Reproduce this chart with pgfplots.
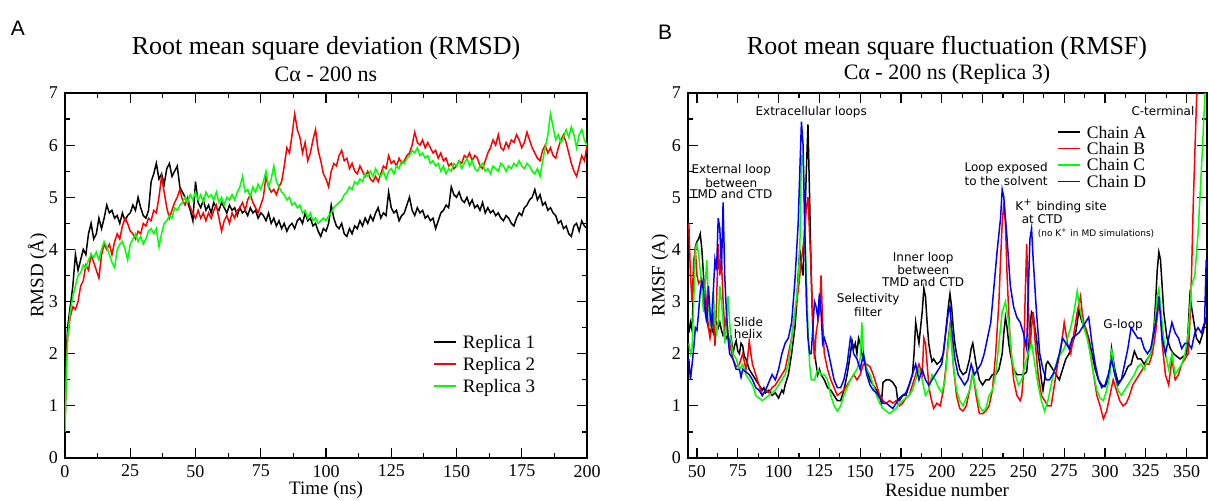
\documentclass[border=0pt]{standalone}
\usepackage{fontspec}
\setmainfont{Liberation Serif}
\newfontfamily\dv{DejaVu Sans}
\newfontfamily\ls{Liberation Sans}
\usepackage{pgfplots}
\pgfplotsset{compat=1.18}
\pgfplotsset{
  grace/.style={
    scale only axis, height=182.5pt, anchor=south west,
    ymin=0, ymax=7, ytick={0,1,...,7},
    minor x tick num=1, minor y tick num=1,
    tick align=inside, major tick length=5pt, minor tick length=2.5pt,
    tick style={black, line width=0.6pt},
    axis line style={line width=0.7pt},
    tick label style={font=\fontsize{9}{10}\selectfont},
    /pgf/number format/assume math mode=true,
    every axis plot/.append style={line width=0.75pt},
    legend image code/.code={\draw[##1] (0pt,0pt) -- (11pt,0pt);},
  }
}
\begin{document}
\begin{tikzpicture}
\useasboundingbox (0,0) rectangle (604.5pt,250pt);
% ---------------- Panel A ----------------
\begin{axis}[grace, at={(32.5pt,21pt)}, width=261pt,
  xmin=0, xmax=200, xtick={0,25,...,200},
  legend style={at={(0.705,0.342)}, anchor=north west, draw=none, fill=none,
    inner sep=0pt, row sep=2.5pt, column sep=2pt,
    font=\fontsize{9.5}{11}\selectfont,
    nodes={inner sep=1pt, text height=6.5pt, text depth=0pt}},
  legend cell align=left]
\addplot[black] coordinates {
(0,0.6)(0.5,2.0)(1,2.5)(2,2.9)(3,3.3)(4,3.9)(5,3.6)(6,3.8)(7,4.0)(8,3.9)(9,4.3)(10,4.5)(11,4.2)(12,4.3)(13,4.6)(14,4.4)(15,4.6)(16,4.85)(17,4.7)(18,4.75)(19,4.6)(20,4.65)
(21,4.5)(22,4.7)(23,4.55)(24,4.65)(25,4.7)(26,4.85)(27,4.75)(28,5.0)(29,4.8)(30,4.65)(31,4.6)(32,4.75)(33,5.3)(34,5.45)(35,5.65)(36,5.35)(37,5.45)(38,5.25)(39,5.55)(40,5.65)
(41,5.4)(42,5.5)(43,5.6)(44,5.2)(45,5.1)(46,5.0)(47,4.9)(48,4.75)(49,4.55)(50,5.3)(51,4.9)(52,4.8)(53,4.95)(54,4.75)(55,4.85)(56,4.7)(57,4.9)(58,4.8)(59,4.75)(60,4.9)
(61,4.8)(62,4.7)(63,4.85)(64,4.75)(65,4.8)(66,4.65)(67,4.8)(68,4.7)(69,4.75)(70,4.65)(71,4.8)(72,4.7)(73,4.75)(74,4.6)(75,4.7)(76,4.65)(77,4.55)(78,4.7)(79,4.5)(80,4.6)
(81,4.45)(82,4.55)(83,4.4)(84,4.5)(85,4.35)(86,4.45)(87,4.5)(88,4.4)(89,4.55)(90,4.6)(91,4.5)(92,4.7)(93,4.55)(94,4.6)(95,4.45)(96,4.5)(97,4.35)(98,4.25)(99,4.4)(100,4.35)
(101,4.5)(102,4.85)(103,4.6)(104,4.45)(105,4.4)(106,4.5)(107,4.3)(108,4.25)(109,4.4)(110,4.3)(111,4.45)(112,4.4)(113,4.55)(114,4.45)(115,4.6)(116,4.5)(117,4.65)(118,4.55)(119,4.7)(120,4.8)
(121,4.6)(122,4.7)(123,4.65)(124,5.1)(125,4.8)(126,4.7)(127,4.75)(128,4.55)(129,4.65)(130,4.7)(131,4.85)(132,5.0)(133,4.75)(134,4.65)(135,4.8)(136,4.7)(137,4.75)(138,4.6)(139,4.65)(140,4.55)
(141,4.6)(142,4.4)(143,4.55)(144,4.7)(145,4.75)(146,4.85)(147,4.8)(148,5.2)(149,5.05)(150,5.0)(151,5.1)(152,4.95)(153,4.9)(154,5.0)(155,4.85)(156,4.95)(157,4.8)(158,4.85)(159,4.75)(160,4.9)
(161,4.7)(162,4.8)(163,4.7)(164,4.75)(165,4.65)(166,4.7)(167,4.6)(168,4.55)(169,4.65)(170,4.6)(171,4.5)(172,4.45)(173,4.6)(174,4.7)(175,4.65)(176,4.8)(177,4.85)(178,4.95)(179,5.0)(180,5.15)
(181,4.95)(182,5.05)(183,4.85)(184,4.9)(185,4.75)(186,4.8)(187,4.7)(188,4.65)(189,4.5)(190,4.55)(191,4.4)(192,4.45)(193,4.3)(194,4.25)(195,4.45)(196,4.5)(197,4.35)(198,4.55)(199,4.45)(200,4.4)
};
\addlegendentry{Replica 1}
\addplot[red] coordinates {
(0,0.7)(0.5,1.8)(1,2.3)(2,2.7)(3,2.9)(4,2.85)(5,3.0)(6,3.3)(7,3.4)(8,3.7)(9,3.6)(10,3.9)(11,3.75)(12,3.6)(13,3.45)(14,3.9)(15,4.1)(16,4.0)(17,4.1)(18,3.9)(19,4.15)(20,4.3)
(21,4.2)(22,4.45)(23,4.6)(24,4.5)(25,4.35)(26,4.3)(27,4.2)(28,4.35)(29,4.3)(30,4.5)(31,4.45)(32,4.6)(33,4.55)(34,4.75)(35,4.7)(36,5.0)(37,5.4)(38,5.1)(39,4.8)(40,4.6)
(41,4.75)(42,4.9)(43,5.0)(44,5.15)(45,4.95)(46,4.85)(47,5.0)(48,4.8)(49,4.7)(50,4.6)(51,4.75)(52,4.6)(53,4.7)(54,4.55)(55,4.7)(56,4.6)(57,4.75)(58,4.85)(59,4.6)(60,4.35)
(61,4.55)(62,4.65)(63,4.5)(64,4.7)(65,4.6)(66,4.75)(67,4.8)(68,4.9)(69,4.75)(70,4.95)(71,5.05)(72,4.9)(73,4.8)(74,4.7)(75,4.85)(76,5.0)(77,5.4)(78,5.2)(79,5.1)(80,5.15)
(81,5.05)(82,5.2)(83,5.3)(84,5.6)(85,5.95)(86,5.85)(87,6.2)(88,6.6)(89,6.3)(90,6.15)(91,5.85)(92,6.05)(93,5.7)(94,5.85)(95,6.1)(96,6.3)(97,5.9)(98,5.7)(99,5.45)(100,5.35)
(101,5.2)(102,5.5)(103,5.65)(104,5.6)(105,5.8)(106,5.9)(107,5.7)(108,5.75)(109,5.55)(110,5.65)(111,5.5)(112,5.45)(113,5.6)(114,5.5)(115,5.4)(116,5.5)(117,5.35)(118,5.3)(119,5.4)(120,5.3)
(121,5.45)(122,5.6)(123,5.55)(124,5.8)(125,5.65)(126,5.7)(127,5.6)(128,5.75)(129,5.65)(130,5.7)(131,5.8)(132,5.85)(133,6.0)(134,6.25)(135,6.05)(136,6.0)(137,6.1)(138,5.95)(139,6.05)(140,5.95)
(141,5.85)(142,5.9)(143,5.75)(144,5.85)(145,5.7)(146,5.75)(147,5.6)(148,5.65)(149,5.55)(150,5.6)(151,5.7)(152,5.65)(153,5.8)(154,5.75)(155,5.85)(156,5.7)(157,5.8)(158,5.75)(159,5.6)(160,5.55)
(161,5.7)(162,5.85)(163,5.95)(164,6.1)(165,6.0)(166,6.2)(167,5.95)(168,5.9)(169,6.05)(170,5.95)(171,6.1)(172,6.05)(173,6.2)(174,6.1)(175,5.95)(176,6.05)(177,6.25)(178,6.1)(179,5.95)(180,5.85)
(181,5.75)(182,5.7)(183,5.9)(184,6.0)(185,5.85)(186,5.95)(187,5.8)(188,5.75)(189,5.95)(190,6.1)(191,6.2)(192,6.05)(193,5.85)(194,5.65)(195,5.5)(196,5.4)(197,5.6)(198,5.8)(199,5.7)(200,6.0)
};
\addlegendentry{Replica 2}
\addplot[green] coordinates {
(0,0.5)(0.5,1.5)(1,2.3)(2,2.8)(3,3.1)(4,3.3)(5,3.5)(6,3.55)(7,3.7)(8,3.65)(9,3.8)(10,3.9)(11,3.85)(12,3.95)(13,3.8)(14,4.0)(15,4.15)(16,4.05)(17,3.9)(18,3.75)(19,3.65)(20,4.0)
(21,4.1)(22,4.15)(23,4.0)(24,3.8)(25,4.1)(26,4.2)(27,4.3)(28,4.15)(29,4.25)(30,4.1)(31,4.2)(32,4.35)(33,4.4)(34,4.3)(35,4.4)(36,4.05)(37,4.3)(38,4.5)(39,4.55)(40,4.65)
(41,4.6)(42,4.8)(43,4.75)(44,4.85)(45,4.9)(46,5.0)(47,4.9)(48,5.05)(49,4.95)(50,5.1)(51,4.95)(52,5.05)(53,4.9)(54,5.1)(55,5.0)(56,5.05)(57,4.95)(58,5.1)(59,4.9)(60,5.0)
(61,4.85)(62,5.0)(63,4.95)(64,5.05)(65,4.95)(66,5.1)(67,5.2)(68,5.4)(69,5.1)(70,5.15)(71,5.0)(72,5.2)(73,5.1)(74,5.25)(75,5.15)(76,5.3)(77,5.5)(78,5.2)(79,5.35)(80,5.6)
(81,5.3)(82,5.2)(83,5.1)(84,5.05)(85,4.95)(86,5.0)(87,4.85)(88,4.9)(89,4.8)(90,4.85)(91,4.7)(92,4.75)(93,4.6)(94,4.7)(95,4.55)(96,4.6)(97,4.5)(98,4.55)(99,4.6)(100,4.55)
(101,4.65)(102,4.7)(103,4.8)(104,4.85)(105,4.9)(106,4.95)(107,5.05)(108,5.1)(109,5.2)(110,5.15)(111,5.3)(112,5.25)(113,5.35)(114,5.3)(115,5.45)(116,5.4)(117,5.5)(118,5.4)(119,5.55)(120,5.45)
(121,5.4)(122,5.5)(123,5.35)(124,5.5)(125,5.55)(126,5.45)(127,5.6)(128,5.55)(129,5.7)(130,5.65)(131,5.75)(132,5.8)(133,5.9)(134,5.85)(135,5.95)(136,5.8)(137,5.85)(138,5.75)(139,5.8)(140,5.65)
(141,5.7)(142,5.6)(143,5.65)(144,5.5)(145,5.6)(146,5.45)(147,5.55)(148,5.5)(149,5.65)(150,5.6)(151,5.7)(152,5.55)(153,5.65)(154,5.75)(155,5.6)(156,5.7)(157,5.55)(158,5.5)(159,5.6)(160,5.65)
(161,5.5)(162,5.55)(163,5.45)(164,5.6)(165,5.55)(166,5.5)(167,5.65)(168,5.6)(169,5.5)(170,5.6)(171,5.55)(172,5.65)(173,5.6)(174,5.7)(175,5.6)(176,5.55)(177,5.65)(178,5.6)(179,5.5)(180,5.45)
(181,5.55)(182,5.4)(183,5.7)(184,5.95)(185,6.2)(186,6.6)(187,6.35)(188,6.1)(189,6.2)(190,6.05)(191,6.15)(192,6.3)(193,6.15)(194,6.35)(195,6.2)(196,5.95)(197,6.2)(198,6.3)(199,6.1)(200,6.0)
};
\addlegendentry{Replica 3}
\end{axis}
% ---------------- Panel B ----------------
\begin{axis}[grace, at={(344pt,21pt)}, width=259.5pt,
  xmin=44.5, xmax=362.5, xtick={50,75,...,350},
  legend style={at={(0.711,0.916)}, anchor=north west, draw=none, fill=none,
    inner sep=0pt, row sep=0.2pt, column sep=2pt,
    font=\fontsize{8.8}{10}\selectfont,
    nodes={inner sep=1pt, text height=6pt, text depth=0pt}},
  legend cell align=left]
\addplot[black] coordinates {
(45,2.4)(46,2.6)(47,2.45)(48,3.4)(49,4.05)(50,4.15)(51,4.2)(52,4.3)(53,4.0)(54,3.5)(55,3.0)(56,2.65)(57,2.5)(58,2.4)(59,2.5)(60,2.4)(61,2.55)(62,2.6)(63,2.5)(64,2.6)(65,2.45)(66,2.35)(67,2.4)(68,2.3)(69,2.35)(70,2.2)(71,2.3)(72,2.0)(73,2.15)(74,2.25)(75,2.05)(76,2.0)(77,2.2)(78,2.15)(79,1.95)(80,1.9)(82,1.7)(84,1.6)(86,1.5)(88,1.4)(90,1.3)(91,1.35)(92,1.25)(94,1.3)(96,1.2)(98,1.25)(100,1.15)(102,1.3)(103,1.25)(104,1.4)(106,1.6)(108,2.0)(110,2.5)(111,2.9)(112,3.5)(113,4.0)(114,3.7)(115,3.5)(116,4.5)(117,5.5)(118,6.4)(119,5.0)(120,3.5)(121,2.5)(122,2.0)(123,1.8)(124,1.6)(125,1.7)(126,1.6)(128,1.5)(130,1.35)(132,1.3)(134,1.2)(136,1.1)(138,1.1)(140,1.3)(142,1.6)(143,1.8)(144,2.0)(145,2.25)(146,2.1)(147,2.2)(148,2.0)(149,2.3)(150,2.2)(151,2.0)(152,1.9)(154,1.7)(156,1.5)(158,1.4)(160,1.3)(162,1.2)(163,1.05)(164,1.45)(166,1.5)(168,1.5)(170,1.45)(172,1.35)(173,1.1)(174,1.1)(176,1.2)(178,1.2)(180,1.4)(182,1.6)(183,2.0)(184,2.6)(185,2.4)(186,2.2)(187,2.5)(188,2.8)(189,3.25)(190,3.1)(191,2.6)(192,2.2)(193,2.0)(194,1.85)(195,1.9)(197,1.8)(199,1.85)(201,2.0)(202,2.3)(203,2.6)(204,2.9)(205,3.15)(206,2.9)(207,2.5)(208,2.2)(209,2.0)(211,1.7)(213,1.6)(215,1.65)(217,1.9)(218,2.1)(219,2.2)(220,2.0)(221,1.8)(223,1.5)(225,1.4)(227,1.5)(229,1.5)(231,1.6)(233,1.6)(235,1.7)(237,2.0)(238,2.4)(239,2.7)(240,2.5)(241,2.2)(242,2.0)(244,1.7)(246,1.6)(248,1.6)(250,1.6)(252,1.65)(253,2.0)(254,2.5)(255,2.8)(256,2.75)(257,2.5)(258,2.3)(259,2.0)(260,1.8)(261,1.5)(262,1.3)(263,1.5)(264,1.8)(265,1.85)(266,1.8)(268,1.7)(270,1.6)(272,1.5)(274,1.7)(276,1.9)(278,2.0)(280,2.2)(282,2.4)(283,2.6)(284,2.85)(285,2.7)(286,2.6)(288,2.5)(290,2.3)(292,2.0)(294,1.7)(296,1.5)(298,1.4)(300,1.37)(302,1.5)(303,1.7)(304,2.1)(305,1.9)(306,1.7)(308,1.45)(310,1.5)(312,1.6)(314,1.75)(316,1.8)(318,2.05)(320,1.9)(322,1.9)(324,1.8)(326,1.9)(328,2.0)(330,2.5)(331,3.0)(332,3.6)(333,3.95)(334,3.8)(335,3.3)(336,2.8)(338,2.3)(340,2.1)(342,2.0)(344,1.95)(346,1.9)(348,1.95)(350,2.0)(351,2.5)(352,3.1)(353,2.9)(354,2.7)(356,2.3)(358,2.2)(360,2.4)(362,2.7)
};
\addlegendentry{Chain A}
\addplot[red] coordinates {
(45,4.5)(46,3.5)(47,3.0)(48,3.8)(49,4.0)(50,3.5)(51,3.35)(52,3.4)(53,3.35)(54,3.4)(55,3.3)(56,2.9)(57,2.5)(58,2.3)(59,2.5)(60,2.7)(61,2.15)(62,3.0)(63,4.1)(64,3.5)(65,3.8)(66,3.0)(67,2.5)(68,2.7)(69,2.4)(70,2.2)(72,1.9)(74,1.75)(76,1.8)(78,2.0)(80,1.7)(81,1.9)(82,2.25)(83,2.0)(84,1.8)(86,1.6)(88,1.4)(90,1.2)(92,1.3)(94,1.25)(96,1.35)(98,1.4)(100,1.5)(102,1.6)(104,1.7)(106,2.0)(108,2.3)(110,2.8)(112,3.2)(114,3.8)(116,4.3)(117,4.8)(118,5.0)(119,4.3)(120,3.5)(121,2.5)(122,1.9)(123,2.4)(124,2.6)(125,2.8)(126,3.5)(127,2.6)(128,2.0)(130,1.7)(132,1.5)(134,1.35)(136,1.2)(138,1.25)(140,1.3)(142,1.4)(144,1.5)(146,1.6)(148,1.5)(150,1.6)(152,1.8)(154,1.8)(156,1.75)(158,1.6)(160,1.4)(162,1.2)(164,1.1)(166,1.05)(168,1.1)(170,1.05)(172,1.1)(174,1.0)(176,1.05)(178,1.15)(180,1.2)(182,1.4)(184,1.6)(186,1.8)(188,1.6)(189,2.3)(190,2.2)(191,1.8)(192,1.4)(193,1.2)(195,0.95)(197,1.05)(199,1.0)(201,1.3)(203,1.9)(204,2.3)(205,2.55)(206,2.2)(207,1.8)(209,1.2)(211,0.95)(213,0.9)(215,1.0)(217,1.3)(219,1.65)(220,1.4)(221,1.2)(223,0.85)(225,0.85)(227,0.9)(229,1.0)(231,1.3)(233,2.0)(235,3.0)(236,3.8)(237,4.5)(238,4.9)(239,4.5)(240,3.5)(241,2.8)(242,2.2)(244,1.5)(246,1.2)(248,1.1)(249,1.2)(250,1.6)(251,3.0)(252,4.1)(253,3.0)(254,2.1)(255,2.5)(256,2.8)(257,2.3)(259,1.6)(261,1.2)(263,1.1)(265,1.0)(267,1.0)(269,1.4)(271,1.8)(273,2.1)(275,2.6)(276,2.4)(277,2.2)(279,2.0)(281,2.4)(283,2.8)(285,3.1)(286,2.8)(287,2.6)(289,2.4)(291,2.0)(293,1.6)(295,1.2)(297,1.0)(299,0.75)(301,0.9)(303,1.2)(305,1.5)(307,1.3)(309,1.1)(311,1.0)(313,1.05)(315,1.2)(317,1.4)(319,1.5)(321,1.6)(323,1.7)(325,1.8)(327,1.8)(329,2.0)(331,2.4)(333,3.0)(334,2.8)(335,2.2)(337,1.6)(339,1.4)(341,1.9)(343,1.5)(345,1.6)(347,1.8)(349,1.9)(351,2.0)(352,2.6)(353,3.5)(354,4.8)(355,5.8)(356,6.8)(357,7.5)
};
\addlegendentry{Chain B}
\addplot[green] coordinates {
(45,2.2)(46,2.0)(47,2.1)(48,3.0)(49,4.0)(50,4.1)(51,3.9)(52,3.6)(53,3.2)(54,2.8)(55,3.3)(56,3.8)(57,3.0)(58,2.5)(59,2.8)(60,3.2)(61,2.6)(62,2.4)(63,2.6)(64,3.3)(65,3.0)(66,2.6)(67,2.2)(68,2.5)(69,3.1)(70,2.6)(71,2.2)(72,2.0)(74,1.9)(76,1.7)(78,1.8)(80,1.6)(82,1.5)(84,1.4)(86,1.2)(88,1.15)(90,1.1)(92,1.15)(94,1.2)(96,1.25)(98,1.3)(100,1.4)(102,1.5)(104,1.6)(106,1.8)(108,2.3)(110,2.8)(112,3.4)(113,4.0)(114,5.8)(115,5.8)(116,4.5)(117,3.5)(118,2.5)(119,1.8)(120,1.5)(122,1.5)(124,1.7)(126,1.6)(128,1.6)(130,1.5)(132,1.2)(134,1.0)(136,0.9)(138,1.0)(140,1.2)(142,1.35)(144,1.5)(146,1.6)(148,1.7)(150,1.9)(151,2.6)(152,2.0)(154,1.7)(156,1.6)(158,1.4)(160,1.2)(162,1.05)(164,0.95)(166,0.9)(168,0.85)(170,0.9)(172,0.95)(174,1.05)(176,1.1)(178,1.15)(180,1.2)(182,1.3)(184,1.5)(186,1.7)(188,1.5)(190,1.2)(192,1.3)(194,1.6)(196,1.5)(198,1.35)(200,1.25)(202,1.5)(204,2.2)(205,2.5)(206,2.2)(207,1.8)(209,1.3)(211,1.1)(213,1.0)(215,1.15)(217,1.3)(219,1.6)(221,1.3)(223,1.0)(225,0.9)(227,0.95)(229,1.2)(231,1.3)(233,1.6)(235,2.2)(237,2.8)(239,3.0)(241,2.6)(243,1.9)(245,1.6)(247,1.4)(249,1.5)(251,1.8)(253,2.0)(255,2.2)(257,1.8)(259,1.4)(261,1.1)(263,0.9)(265,1.1)(267,1.4)(269,1.7)(271,1.9)(273,2.0)(275,2.1)(277,2.3)(279,2.5)(281,2.8)(283,3.2)(285,2.8)(287,2.5)(289,2.3)(291,2.0)(293,1.6)(295,1.3)(297,1.15)(299,1.1)(301,1.3)(303,1.6)(304,2.1)(306,1.6)(308,1.3)(310,1.2)(312,1.3)(314,1.4)(316,1.5)(318,1.6)(320,1.75)(322,1.8)(324,1.7)(326,1.9)(328,2.0)(330,2.4)(332,3.1)(333,3.25)(335,2.6)(337,2.0)(339,1.7)(341,2.0)(343,1.6)(345,1.7)(347,1.8)(349,2.0)(351,2.4)(353,3.3)(355,3.5)(357,4.3)(359,5.5)(361,6.8)(362,7.5)
};
\addlegendentry{Chain C}
\addplot[blue] coordinates {
(45,1.9)(46,1.5)(47,1.8)(48,2.1)(49,2.5)(50,2.45)(51,2.8)(52,3.2)(53,3.4)(54,3.2)(55,2.8)(56,2.6)(57,3.3)(58,2.8)(59,2.5)(60,3.2)(61,3.8)(62,3.6)(63,4.6)(64,4.4)(65,3.6)(66,4.9)(67,3.5)(68,2.8)(69,2.3)(70,2.0)(72,1.9)(74,1.7)(76,1.7)(77,1.55)(78,1.7)(80,1.65)(82,1.6)(84,1.5)(86,1.35)(88,1.3)(90,1.2)(92,1.3)(94,1.45)(96,1.6)(98,1.5)(100,1.7)(102,2.0)(104,2.2)(106,2.3)(108,2.6)(110,3.4)(112,4.5)(113,5.5)(114,6.45)(115,6.0)(116,4.5)(117,3.0)(118,2.3)(119,2.0)(120,2.0)(121,2.5)(122,3.0)(123,2.9)(124,2.7)(125,3.15)(126,2.8)(127,2.2)(128,2.3)(130,2.1)(132,1.8)(134,1.5)(136,1.35)(138,1.35)(140,1.5)(142,1.8)(144,2.3)(145,2.2)(146,2.0)(148,1.9)(150,1.7)(152,2.0)(154,1.6)(156,1.4)(158,1.3)(160,1.25)(162,1.15)(164,1.05)(166,1.05)(168,1.0)(170,0.95)(172,1.05)(174,1.15)(176,1.2)(178,1.25)(180,1.4)(182,1.6)(184,1.8)(186,1.5)(188,1.7)(190,1.5)(192,1.4)(194,1.5)(196,1.6)(198,1.7)(200,1.8)(202,2.3)(204,2.8)(205,2.9)(206,2.5)(208,1.9)(210,1.6)(212,1.5)(214,1.4)(216,1.5)(218,1.8)(220,1.6)(222,1.7)(224,1.8)(226,2.0)(228,2.3)(230,2.6)(232,3.3)(234,4.0)(236,4.6)(237,5.15)(238,5.0)(240,4.2)(242,3.3)(244,2.9)(246,2.7)(248,2.6)(250,2.4)(252,2.1)(253,3.2)(254,4.2)(255,4.4)(256,3.8)(258,2.8)(260,2.0)(262,1.7)(264,1.5)(266,1.5)(268,1.6)(270,1.75)(272,2.0)(274,2.3)(276,2.2)(278,2.1)(280,2.3)(282,2.35)(284,2.4)(286,2.5)(288,2.6)(290,2.7)(292,2.2)(294,1.8)(296,1.5)(298,1.35)(300,1.4)(302,1.6)(304,1.9)(306,1.6)(308,1.4)(310,1.5)(312,1.8)(314,2.1)(316,2.5)(318,2.4)(320,2.3)(322,2.3)(324,2.1)(326,2.0)(328,2.1)(330,2.4)(332,2.8)(333,3.1)(335,2.3)(337,2.0)(339,2.3)(341,2.6)(343,2.4)(345,2.3)(347,2.1)(349,2.2)(351,2.2)(353,2.1)(355,2.4)(357,2.5)(359,2.4)(361,2.6)(362,3.8)
};
\addlegendentry{Chain D}
\begin{scope}[every node/.style={font=\dv\fontsize{6}{5.7}\selectfont, align=center, inner sep=0pt}]
\node at (axis cs:120,6.64) {Extracellular loops};
\node at (axis cs:335.5,6.66) {C-terminal};
\node at (axis cs:71,5.30) {External loop\\between\\TMD and CTD};
\node at (axis cs:81.4,2.49) {Slide\\helix};
\node at (axis cs:154.9,2.93) {Selectivity\\filter};
\node at (axis cs:188.6,3.62) {Inner loop\\between\\TMD and CTD};
\node at (axis cs:239.4,5.45) {Loop exposed\\to the solvent};
\node at (axis cs:273.1,4.83) {K\textsuperscript{+} binding site};
\node at (axis cs:261.5,4.58) {at CTD};
\node[font=\dv\fontsize{4.5}{5}\selectfont] at (axis cs:294.5,4.32) {(no K\textsuperscript{+} in MD simulations)};
\node at (axis cs:311.1,2.55) {G-loop};
\end{scope}
\end{axis}
% ---------------- titles and labels ----------------
\node[font=\ls\fontsize{10.5}{12}\selectfont] at (9pt,236pt) {A};
\node[font=\ls\fontsize{10.5}{12}\selectfont] at (332.5pt,234pt) {B};
\node[font=\fontsize{13}{15}\selectfont] at (163pt,226pt) {Root mean square deviation (RMSD)};
\node[font=\fontsize{11}{13}\selectfont] at (163pt,213pt) {Cα - 200 ns};
\node[font=\fontsize{13}{15}\selectfont] at (473.5pt,226pt) {Root mean square fluctuation (RMSF)};
\node[font=\fontsize{11}{13}\selectfont] at (473.5pt,213pt) {Cα - 200 ns (Replica 3)};
\node[font=\fontsize{9.5}{11}\selectfont] at (163pt,5pt) {Time (ns)};
\node[font=\fontsize{9.5}{11}\selectfont] at (473.5pt,5pt) {Residue number};
\node[font=\fontsize{9.5}{11}\selectfont, rotate=90] at (18.75pt,112.25pt) {RMSD (Å)};
\node[font=\fontsize{9.5}{11}\selectfont, rotate=90] at (330pt,112.25pt) {RMSF (A)};
\end{tikzpicture}
\end{document}
